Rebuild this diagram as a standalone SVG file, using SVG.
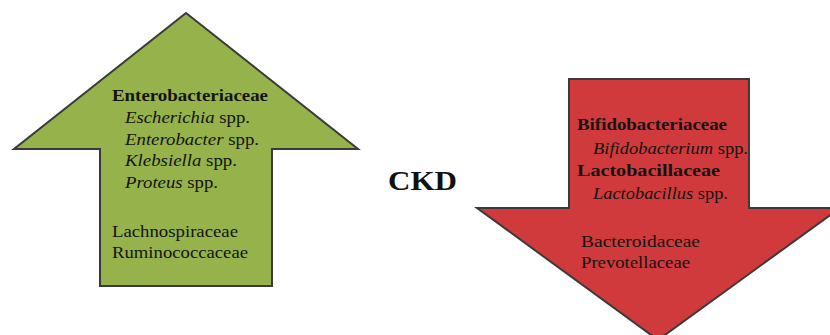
<svg xmlns="http://www.w3.org/2000/svg" width="830" height="335" viewBox="0 0 830 335">
<defs>
<style>
.arrow{stroke:#3a3a3a;stroke-width:2;stroke-linejoin:miter}
.t{font-family:"Liberation Serif","Times New Roman",serif;font-size:17px;fill:#141414}
.b{font-weight:bold}
.i{font-style:italic}
.ckd{font-family:"Liberation Serif","Times New Roman",serif;font-size:27px;font-weight:bold;fill:#111}
</style>
</defs>
<rect width="830" height="335" fill="#fff"/>
<g id="up-arrow">
<polygon class="arrow" fill="#95b24b" points="186,13 358,149 272,149 272,286 100,286 100,149 14,149"/>
<text class="t b" x="112" y="101" textLength="156" lengthAdjust="spacingAndGlyphs">Enterobacteriaceae</text>
<text class="t" x="125" y="123" textLength="125" lengthAdjust="spacingAndGlyphs"><tspan class="i">Escherichia</tspan> spp.</text>
<text class="t" x="125" y="145" textLength="134" lengthAdjust="spacingAndGlyphs"><tspan class="i">Enterobacter</tspan> spp.</text>
<text class="t" x="125" y="166" textLength="112" lengthAdjust="spacingAndGlyphs"><tspan class="i">Klebsiella</tspan> spp.</text>
<text class="t" x="125" y="188" textLength="93" lengthAdjust="spacingAndGlyphs"><tspan class="i">Proteus</tspan> spp.</text>
<text class="t" x="112" y="237" textLength="126" lengthAdjust="spacingAndGlyphs">Lachnospiraceae</text>
<text class="t" x="112" y="258" textLength="136" lengthAdjust="spacingAndGlyphs">Ruminococcaceae</text>
</g>
<g id="ckd">
<text class="ckd" x="388" y="190" textLength="69" lengthAdjust="spacingAndGlyphs">CKD</text>
</g>
<g id="down-arrow">
<polygon class="arrow" fill="#d03a3c" points="569,79 749,79 749,208 840,208 658,340 477,208 569,208"/>
<text class="t b" x="577" y="130" textLength="150" lengthAdjust="spacingAndGlyphs">Bifidobacteriaceae</text>
<text class="t" x="593" y="154" textLength="155" lengthAdjust="spacingAndGlyphs"><tspan class="i">Bifidobacterium</tspan> spp.</text>
<text class="t b" x="577" y="176" textLength="143" lengthAdjust="spacingAndGlyphs">Lactobacillaceae</text>
<text class="t" x="593" y="199" textLength="135" lengthAdjust="spacingAndGlyphs"><tspan class="i">Lactobacillus</tspan> spp.</text>
<text class="t" x="581" y="247" textLength="119" lengthAdjust="spacingAndGlyphs">Bacteroidaceae</text>
<text class="t" x="581" y="268" textLength="109" lengthAdjust="spacingAndGlyphs">Prevotellaceae</text>
</g>
<g id="connectors"></g>
</svg>
